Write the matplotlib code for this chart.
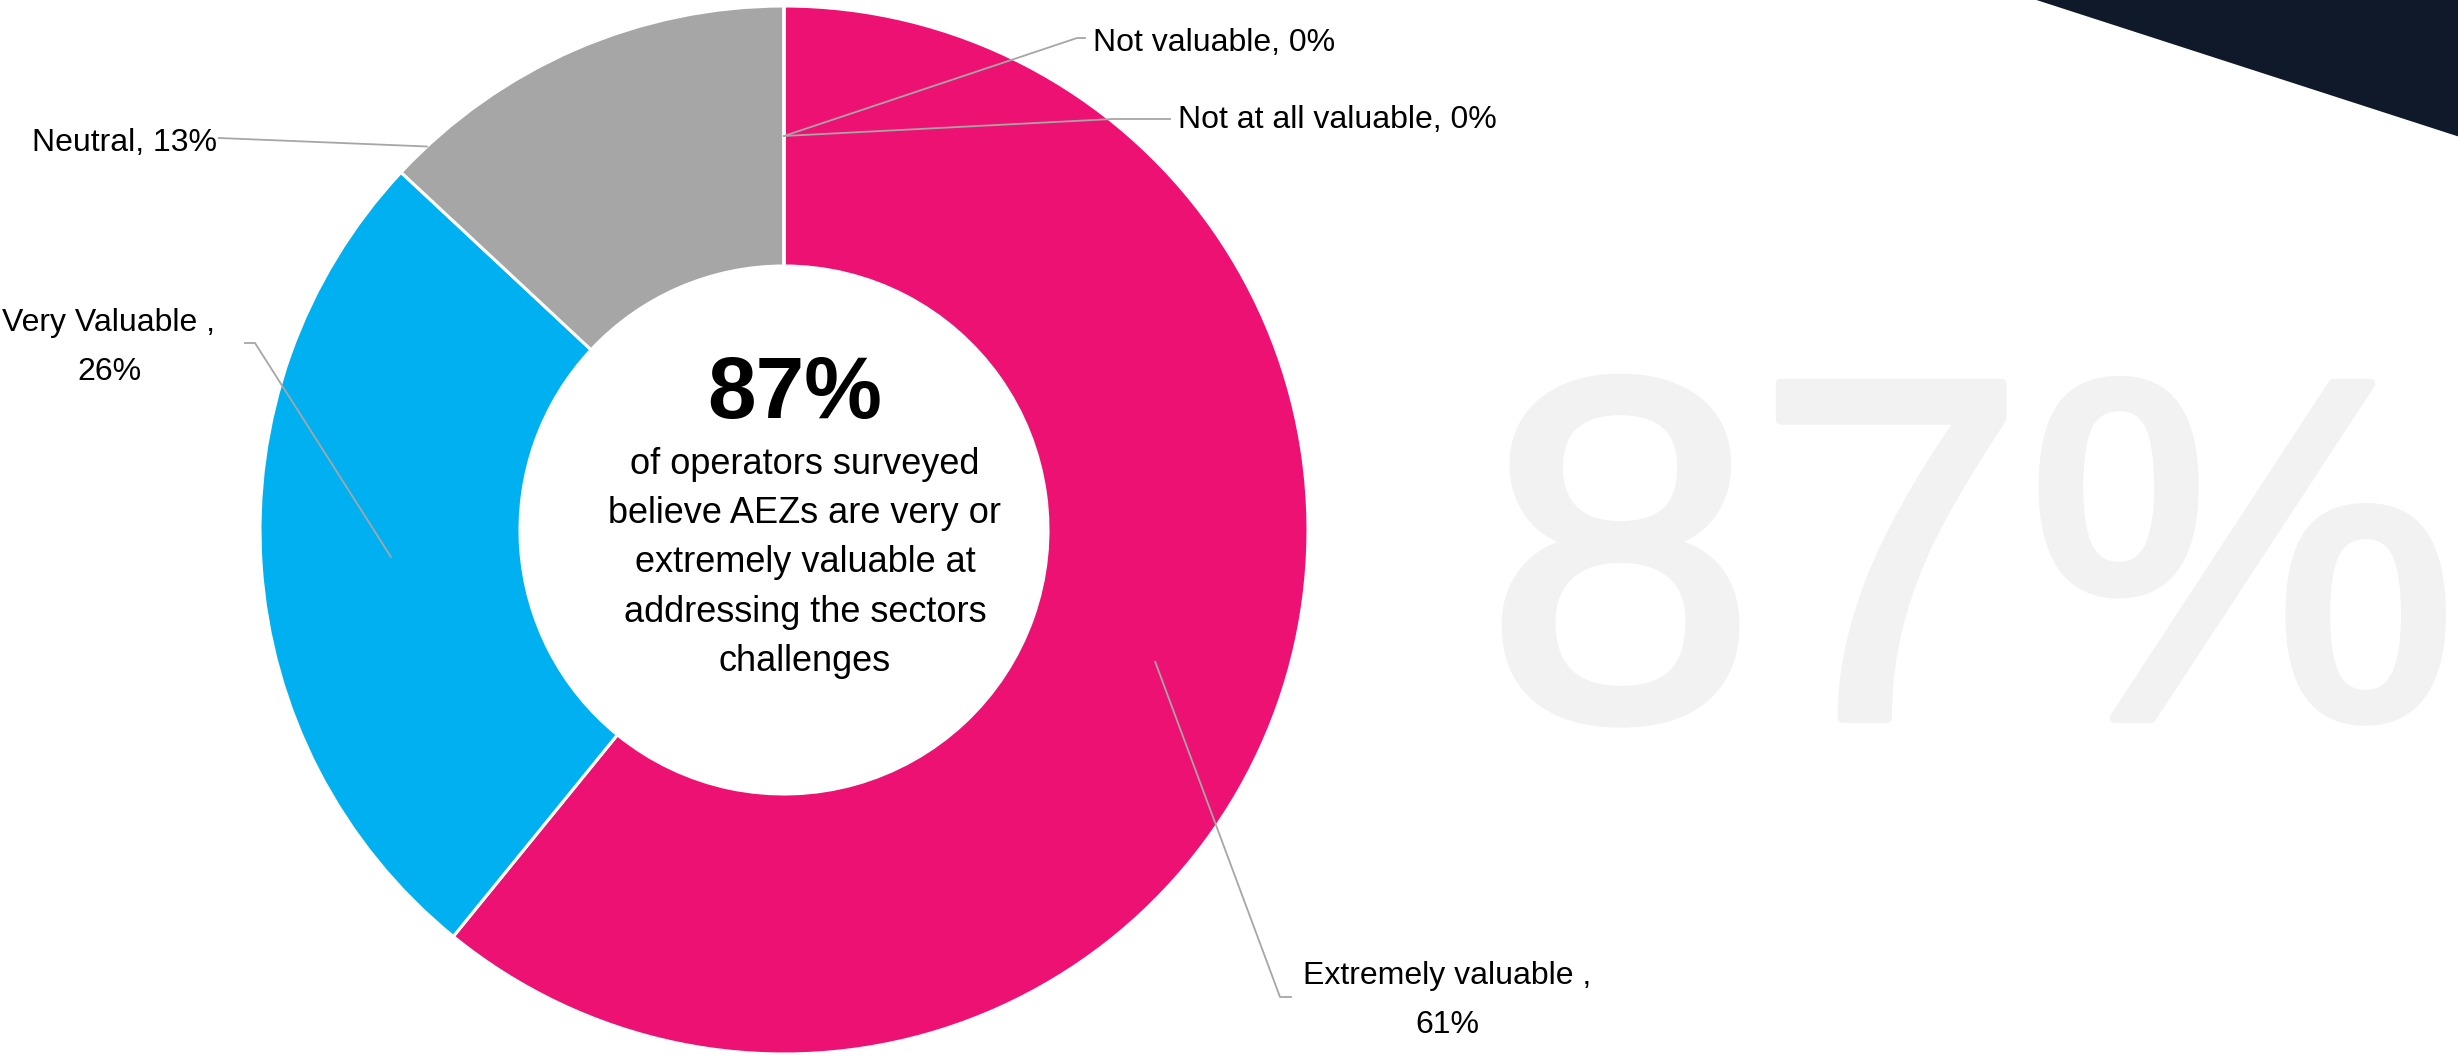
import numpy as np
import matplotlib
matplotlib.use("Agg")
import matplotlib.pyplot as plt
import matplotlib.patheffects as pe
from matplotlib.patches import Polygon

# ---------------- data ----------------
categories = ["Extremely valuable", "Very Valuable", "Neutral",
              "Not valuable", "Not at all valuable"]
counts = [14, 6, 3, 0, 0]                 # respondents (61%, 26%, 13%, 0%, 0%)
pct_labels = ["61%", "26%", "13%", "0%", "0%"]
colors = ["#ED1174", "#00B0F0", "#A6A6A6", "#7F7F7F", "#595959"]
headline = "87%"
headline_lines = ["of operators surveyed", "believe AEZs are very or",
                  "extremely valuable at", "addressing the sectors", "challenges"]

FONT = ["Liberation Sans", "DejaVu Sans"]
plt.rcParams["font.family"] = FONT

W, H = 2458, 1060
fig = plt.figure(figsize=(W / 100, H / 100), dpi=100)
ax = fig.add_axes([0, 0, 1, 1])

cx, cy, R, RING = 784, 530, 524, 260
RMID = R - RING / 2

# axes in pixel-like units, y pointing down -> start at top, clockwise on screen
wedges, _ = ax.pie(counts, colors=colors, startangle=-90, counterclock=True,
                   radius=R, center=(cx, cy),
                   wedgeprops=dict(width=RING, edgecolor="white", linewidth=2.2))
ax.set_xlim(0, W)
ax.set_ylim(H, 0)
ax.set_aspect("equal")
ax.axis("off")

# background decorations
ax.text(1972, 718, headline, fontsize=350, color="#F2F2F2", ha="center",
        va="baseline", zorder=0,
        path_effects=[pe.withStroke(linewidth=7, foreground="#F2F2F2")])
ax.add_patch(Polygon([(2021, -5), (W + 5, -5), (W + 5, 138)], closed=True,
                     facecolor="#0F1929", edgecolor="none", zorder=0.5))

# centre text (va='baseline' on multi-line text anchors the last line)
ax.text(795, 418, headline, fontsize=63, fontweight="bold", ha="center",
        va="baseline", color="black")
ax.text(805, 671, "\n".join(headline_lines), fontsize=26, ha="center",
        va="baseline", multialignment="center", linespacing=1.53, color="black")


def wedge_mid(w, r):
    t = np.deg2rad((w.theta1 + w.theta2) / 2)
    return cx + r * np.cos(t), cy + r * np.sin(t)


def at_angle(theta_deg, r):
    t = np.deg2rad(theta_deg)
    return cx + r * np.cos(t), cy + r * np.sin(t)


LC = "#A6A6A6"
LW = 1.3
LFS = 23

# Extremely valuable
ax_, ay_ = wedge_mid(wedges[0], RMID)
ax.plot([ax_, 1280, 1291], [ay_, 997, 997], color=LC, lw=LW)
ax.text(1447, 1033, f"{categories[0]} ,\n{pct_labels[0]}", fontsize=LFS,
        ha="center", va="baseline", multialignment="center", linespacing=1.82)

# Very Valuable
bx, by = wedge_mid(wedges[1], RMID)
ax.plot([245, 255, bx], [343, 343, by], color=LC, lw=LW)
ax.text(109, 380, f"{categories[1]} ,\n{pct_labels[1]}", fontsize=LFS,
        ha="center", va="baseline", multialignment="center", linespacing=1.82)

# Neutral
nx, ny = at_angle(wedges[2].theta1 + 4, R)
ax.plot([219, nx], [138, ny], color=LC, lw=LW)
ax.text(217, 151, f"{categories[2]}, {pct_labels[2]}", fontsize=LFS,
        ha="right", va="baseline")

# zero wedges
zx, zy = wedge_mid(wedges[3], RMID)
ax.plot([zx, 1077, 1085], [zy, 38, 38], color=LC, lw=LW)
ax.text(1093, 51, f"{categories[3]}, {pct_labels[3]}", fontsize=LFS,
        ha="left", va="baseline")

zx2, zy2 = wedge_mid(wedges[4], RMID)
ax.plot([zx2, 1113, 1170], [zy2, 119, 119], color=LC, lw=LW)
ax.text(1178, 128, f"{categories[4]}, {pct_labels[4]}", fontsize=LFS,
        ha="left", va="baseline")

fig.savefig("out.png", dpi=100, facecolor="white")
